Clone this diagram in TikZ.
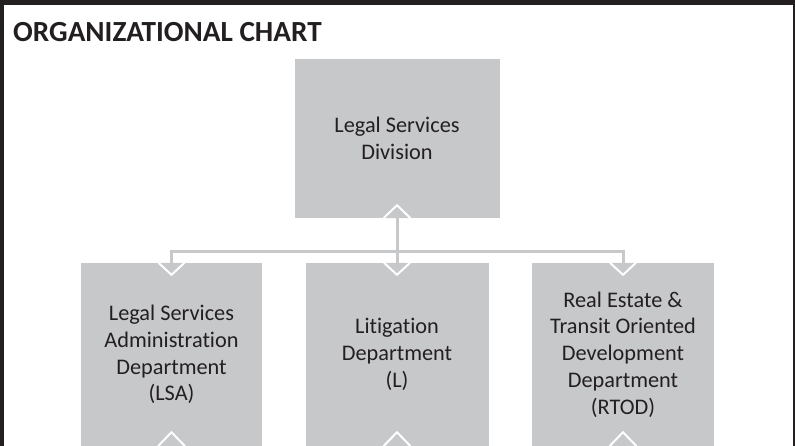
\documentclass[tikz,border=0pt]{standalone}
\usepackage{fontspec}
\setmainfont[Ligatures={NoCommon,NoRare}]{Carlito}
\definecolor{boxgray}{HTML}{C7C8CA}
\definecolor{ink}{HTML}{231F20}
\tikzset{
  unitbox/.style={fill=boxgray, draw=none, inner sep=0pt, align=center, text=ink,
    font=\fontsize{22.3}{26.7}\selectfont},
  conn/.style={draw=boxgray, line width=3pt},
  chev/.style={draw=white, line width=2pt, fill=boxgray, line join=miter},
  framebar/.style={fill=ink, draw=none}
}
\begin{document}
\begin{tikzpicture}[x=1pt,y=-1pt]
\useasboundingbox (0,0) rectangle (795,446);
% frame
\fill[framebar] (0,0) rectangle (795,5);
\fill[framebar] (0,0) rectangle (4,446);
\fill[framebar] (792.5,0) rectangle (795,446);
% title
\node[anchor=base west, inner sep=0pt, text=ink, font=\bfseries\fontsize{29.2}{34}\selectfont] (title) at (13,42) {ORGANIZATIONAL CHART};
% boxes
\node[unitbox, minimum width=205pt, minimum height=159pt] (top) at (397,138.5) {Legal Services\\Division};
\node[unitbox, minimum width=181pt, minimum height=183pt] (lsa) at (171.5,354.5) {Legal Services\\Administration\\Department\\(LSA)};
\node[unitbox, minimum width=183pt, minimum height=183pt] (lit) at (397,354.5) {Litigation\\Department\\(L)};
\node[unitbox, minimum width=182pt, minimum height=183pt] (rtod) at (623,354.5) {Real Estate \&\\Transit Oriented\\Development\\Department\\(RTOD)};
\coordinate (bar) at (397,252);
% connectors
\draw[conn] (top.south) -- (lit.north);
\draw[conn] (lsa.north) |- (bar) -| (rtod.north);
% chevrons
\filldraw[chev] ([xshift=-13.5pt]top.south) -- ([yshift=13pt]top.south) -- ([xshift=13.5pt]top.south);
\foreach \b in {lsa,lit,rtod}{
  \filldraw[chev] ([xshift=-13pt]\b.north) -- ([yshift=-12pt]\b.north) -- ([xshift=13pt]\b.north);
  \filldraw[chev] ([xshift=-13.5pt]\b.south) -- ([yshift=14pt]\b.south) -- ([xshift=13.5pt]\b.south);
}
\end{tikzpicture}
\end{document}
